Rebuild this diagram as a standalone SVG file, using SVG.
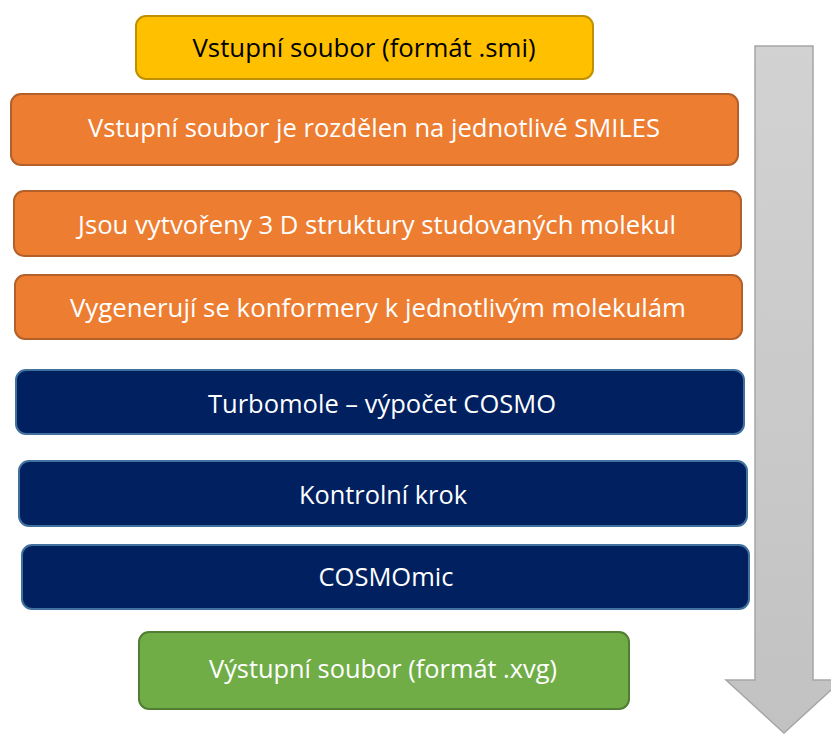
<svg xmlns="http://www.w3.org/2000/svg" width="831" height="734" viewBox="0 0 831 734">
<defs>
<linearGradient id="ag" x1="0" y1="0" x2="0" y2="1">
<stop offset="0" stop-color="#D2D2D2"/>
<stop offset="1" stop-color="#C2C2C2"/>
</linearGradient>
<style>
.t{font-family:"Open Sans","Noto Sans","Liberation Sans",sans-serif;font-size:26px;text-anchor:middle}
.w{fill:#FFFFFF}
.k{fill:#000000}
.y{fill:#FFC000;stroke:#BF9000;stroke-width:2}
.o{fill:#ED7D31;stroke:#B3602A;stroke-width:2}
.n{fill:#002060;stroke:#41719C;stroke-width:2}
.g{fill:#70AD47;stroke:#507E32;stroke-width:2}
</style>
</defs>
<rect width="831" height="734" fill="#FFFFFF"/>
<g id="connectors">
<path d="M755,46 L813,46 L813,680 L842,680 L784,733 L726,680 L755,680 Z" fill="url(#ag)" stroke="#A6A6A6" stroke-width="1.5"/>
</g>
<g id="n1">
<rect class="y" x="136" y="16" width="457" height="63" rx="10"/>
<text class="t k" x="364" y="57" textLength="343" lengthAdjust="spacingAndGlyphs">Vstupní soubor (formát .smi)</text>
</g>
<g id="n2">
<rect class="o" x="11" y="94" width="727" height="71" rx="10"/>
<text class="t w" x="374" y="137" textLength="572" lengthAdjust="spacingAndGlyphs">Vstupní soubor je rozdělen na jednotlivé SMILES</text>
</g>
<g id="n3">
<rect class="o" x="14" y="191" width="727" height="65" rx="10"/>
<text class="t w" x="377" y="234" textLength="598" lengthAdjust="spacingAndGlyphs">Jsou vytvořeny 3 D struktury studovaných molekul</text>
</g>
<g id="n4">
<rect class="o" x="15" y="275" width="727" height="64" rx="10"/>
<text class="t w" x="378" y="317" textLength="616" lengthAdjust="spacingAndGlyphs">Vygenerují se konformery k jednotlivým molekulám</text>
</g>
<g id="n5">
<rect class="n" x="16" y="370" width="728" height="64" rx="10"/>
<text class="t w" x="382" y="413" textLength="348" lengthAdjust="spacingAndGlyphs">Turbomole – výpočet COSMO</text>
</g>
<g id="n6">
<rect class="n" x="19" y="461" width="728" height="65" rx="10"/>
<text class="t w" x="383" y="504" textLength="168" lengthAdjust="spacingAndGlyphs">Kontrolní krok</text>
</g>
<g id="n7">
<rect class="n" x="22" y="545" width="727" height="64" rx="10"/>
<text class="t w" x="386" y="586" textLength="135" lengthAdjust="spacingAndGlyphs">COSMOmic</text>
</g>
<g id="n8">
<rect class="g" x="139" y="632" width="490" height="77" rx="10"/>
<text class="t w" x="383" y="678" textLength="348" lengthAdjust="spacingAndGlyphs">Výstupní soubor (formát .xvg)</text>
</g>
</svg>
